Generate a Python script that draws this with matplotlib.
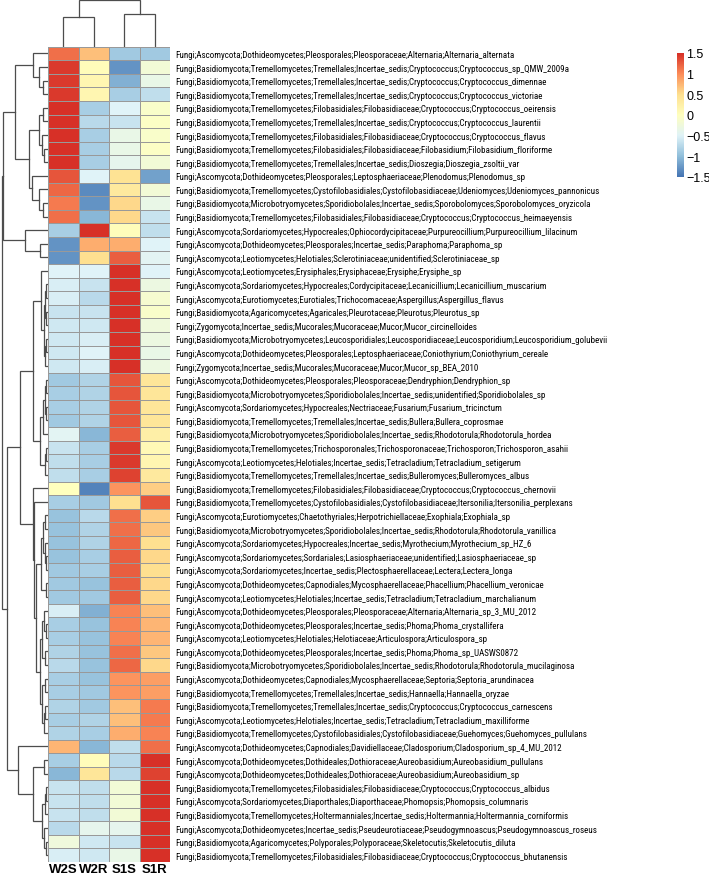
import numpy as np
import matplotlib.pyplot as plt
from matplotlib import font_manager
from matplotlib.colors import LinearSegmentedColormap

cols = ['W2S', 'W2R', 'S1S', 'S1R']

rows = [
    'Fungi;Ascomycota;Dothideomycetes;Pleosporales;Pleosporaceae;Alternaria;Alternaria_alternata',
    'Fungi;Basidiomycota;Tremellomycetes;Tremellales;Incertae_sedis;Cryptococcus;Cryptococcus_sp_QMW_2009a',
    'Fungi;Basidiomycota;Tremellomycetes;Tremellales;Incertae_sedis;Cryptococcus;Cryptococcus_dimennae',
    'Fungi;Basidiomycota;Tremellomycetes;Tremellales;Incertae_sedis;Cryptococcus;Cryptococcus_victoriae',
    'Fungi;Basidiomycota;Tremellomycetes;Filobasidiales;Filobasidiaceae;Cryptococcus;Cryptococcus_oeirensis',
    'Fungi;Basidiomycota;Tremellomycetes;Tremellales;Incertae_sedis;Cryptococcus;Cryptococcus_laurentii',
    'Fungi;Basidiomycota;Tremellomycetes;Filobasidiales;Filobasidiaceae;Cryptococcus;Cryptococcus_flavus',
    'Fungi;Basidiomycota;Tremellomycetes;Filobasidiales;Filobasidiaceae;Filobasidium;Filobasidium_floriforme',
    'Fungi;Basidiomycota;Tremellomycetes;Tremellales;Incertae_sedis;Dioszegia;Dioszegia_zsoltii_var',
    'Fungi;Ascomycota;Dothideomycetes;Pleosporales;Leptosphaeriaceae;Plenodomus;Plenodomus_sp',
    'Fungi;Basidiomycota;Tremellomycetes;Cystofilobasidiales;Cystofilobasidiaceae;Udeniomyces;Udeniomyces_pannonicus',
    'Fungi;Basidiomycota;Microbotryomycetes;Sporidiobolales;Incertae_sedis;Sporobolomyces;Sporobolomyces_oryzicola',
    'Fungi;Basidiomycota;Tremellomycetes;Filobasidiales;Filobasidiaceae;Cryptococcus;Cryptococcus_heimaeyensis',
    'Fungi;Ascomycota;Sordariomycetes;Hypocreales;Ophiocordycipitaceae;Purpureocillium;Purpureocillium_lilacinum',
    'Fungi;Ascomycota;Dothideomycetes;Pleosporales;Incertae_sedis;Paraphoma;Paraphoma_sp',
    'Fungi;Ascomycota;Leotiomycetes;Helotiales;Sclerotiniaceae;unidentified;Sclerotiniaceae_sp',
    'Fungi;Ascomycota;Leotiomycetes;Erysiphales;Erysiphaceae;Erysiphe;Erysiphe_sp',
    'Fungi;Ascomycota;Sordariomycetes;Hypocreales;Cordycipitaceae;Lecanicillium;Lecanicillium_muscarium',
    'Fungi;Ascomycota;Eurotiomycetes;Eurotiales;Trichocomaceae;Aspergillus;Aspergillus_flavus',
    'Fungi;Basidiomycota;Agaricomycetes;Agaricales;Pleurotaceae;Pleurotus;Pleurotus_sp',
    'Fungi;Zygomycota;Incertae_sedis;Mucorales;Mucoraceae;Mucor;Mucor_circinelloides',
    'Fungi;Basidiomycota;Microbotryomycetes;Leucosporidiales;Leucosporidiaceae;Leucosporidium;Leucosporidium_golubevii',
    'Fungi;Ascomycota;Dothideomycetes;Pleosporales;Leptosphaeriaceae;Coniothyrium;Coniothyrium_cereale',
    'Fungi;Zygomycota;Incertae_sedis;Mucorales;Mucoraceae;Mucor;Mucor_sp_BEA_2010',
    'Fungi;Ascomycota;Dothideomycetes;Pleosporales;Pleosporaceae;Dendryphion;Dendryphion_sp',
    'Fungi;Basidiomycota;Microbotryomycetes;Sporidiobolales;Incertae_sedis;unidentified;Sporidiobolales_sp',
    'Fungi;Ascomycota;Sordariomycetes;Hypocreales;Nectriaceae;Fusarium;Fusarium_tricinctum',
    'Fungi;Basidiomycota;Tremellomycetes;Tremellales;Incertae_sedis;Bullera;Bullera_coprosmae',
    'Fungi;Basidiomycota;Microbotryomycetes;Sporidiobolales;Incertae_sedis;Rhodotorula;Rhodotorula_hordea',
    'Fungi;Basidiomycota;Tremellomycetes;Trichosporonales;Trichosporonaceae;Trichosporon;Trichosporon_asahii',
    'Fungi;Ascomycota;Leotiomycetes;Helotiales;Incertae_sedis;Tetracladium;Tetracladium_setigerum',
    'Fungi;Basidiomycota;Tremellomycetes;Tremellales;Incertae_sedis;Bulleromyces;Bulleromyces_albus',
    'Fungi;Basidiomycota;Tremellomycetes;Filobasidiales;Filobasidiaceae;Cryptococcus;Cryptococcus_chernovii',
    'Fungi;Basidiomycota;Tremellomycetes;Cystofilobasidiales;Cystofilobasidiaceae;Itersonilia;Itersonilia_perplexans',
    'Fungi;Ascomycota;Eurotiomycetes;Chaetothyriales;Herpotrichiellaceae;Exophiala;Exophiala_sp',
    'Fungi;Basidiomycota;Microbotryomycetes;Sporidiobolales;Incertae_sedis;Rhodotorula;Rhodotorula_vanillica',
    'Fungi;Ascomycota;Sordariomycetes;Hypocreales;Incertae_sedis;Myrothecium;Myrothecium_sp_HZ_6',
    'Fungi;Ascomycota;Sordariomycetes;Sordariales;Lasiosphaeriaceae;unidentified;Lasiosphaeriaceae_sp',
    'Fungi;Ascomycota;Sordariomycetes;Incertae_sedis;Plectosphaerellaceae;Lectera;Lectera_longa',
    'Fungi;Ascomycota;Dothideomycetes;Capnodiales;Mycosphaerellaceae;Phacellium;Phacellium_veronicae',
    'Fungi;Ascomycota;Leotiomycetes;Helotiales;Incertae_sedis;Tetracladium;Tetracladium_marchalianum',
    'Fungi;Ascomycota;Dothideomycetes;Pleosporales;Pleosporaceae;Alternaria;Alternaria_sp_3_MU_2012',
    'Fungi;Ascomycota;Dothideomycetes;Pleosporales;Incertae_sedis;Phoma;Phoma_crystallifera',
    'Fungi;Ascomycota;Leotiomycetes;Helotiales;Helotiaceae;Articulospora;Articulospora_sp',
    'Fungi;Ascomycota;Dothideomycetes;Pleosporales;Incertae_sedis;Phoma;Phoma_sp_UASWS0872',
    'Fungi;Basidiomycota;Microbotryomycetes;Sporidiobolales;Incertae_sedis;Rhodotorula;Rhodotorula_mucilaginosa',
    'Fungi;Ascomycota;Dothideomycetes;Capnodiales;Mycosphaerellaceae;Septoria;Septoria_arundinacea',
    'Fungi;Basidiomycota;Tremellomycetes;Tremellales;Incertae_sedis;Hannaella;Hannaella_oryzae',
    'Fungi;Basidiomycota;Tremellomycetes;Tremellales;Incertae_sedis;Cryptococcus;Cryptococcus_carnescens',
    'Fungi;Ascomycota;Leotiomycetes;Helotiales;Incertae_sedis;Tetracladium;Tetracladium_maxilliforme',
    'Fungi;Basidiomycota;Tremellomycetes;Cystofilobasidiales;Cystofilobasidiaceae;Guehomyces;Guehomyces_pullulans',
    'Fungi;Ascomycota;Dothideomycetes;Capnodiales;Davidiellaceae;Cladosporium;Cladosporium_sp_4_MU_2012',
    'Fungi;Ascomycota;Dothideomycetes;Dothideales;Dothioraceae;Aureobasidium;Aureobasidium_pullulans',
    'Fungi;Ascomycota;Dothideomycetes;Dothideales;Dothioraceae;Aureobasidium;Aureobasidium_sp',
    'Fungi;Basidiomycota;Tremellomycetes;Filobasidiales;Filobasidiaceae;Cryptococcus;Cryptococcus_albidus',
    'Fungi;Ascomycota;Sordariomycetes;Diaporthales;Diaporthaceae;Phomopsis;Phomopsis_columnaris',
    'Fungi;Basidiomycota;Tremellomycetes;Holtermanniales;Incertae_sedis;Holtermannia;Holtermannia_corniformis',
    'Fungi;Ascomycota;Dothideomycetes;Incertae_sedis;Pseudeurotiaceae;Pseudogymnoascus;Pseudogymnoascus_roseus',
    'Fungi;Basidiomycota;Agaricomycetes;Polyporales;Polyporaceae;Skeletocutis;Skeletocutis_diluta',
    'Fungi;Basidiomycota;Tremellomycetes;Filobasidiales;Filobasidiaceae;Cryptococcus;Cryptococcus_bhutanensis',
]

# row z-scores (W2S, W2R, S1S, S1R)
values = [
    [1.15, 0.7, -0.9, -0.9],
    [1.45, 0.05, -1.3, -0.2],
    [1.45, 0.15, -1.1, -0.35],
    [1.45, 0.15, -0.85, -0.7],
    [1.5, -0.85, -0.5, -0.1],
    [1.5, -0.75, -0.65, -0.05],
    [1.5, -0.85, -0.35, -0.1],
    [1.5, -0.85, -0.35, -0.05],
    [1.5, -0.85, -0.4, -0.2],
    [1.3, -0.5, 0.45, -1.2],
    [1.2, -1.35, 0.35, -0.2],
    [1.1, -1.3, 0.55, -0.35],
    [1.15, -1.05, 0.55, -0.65],
    [-0.85, 1.5, 0.05, -0.7],
    [-1.3, 0.8, 0.8, -0.5],
    [-1.3, 0.5, 1.25, -0.45],
    [-0.5, -0.5, 1.5, -0.5],
    [-0.55, -0.65, 1.5, -0.3],
    [-0.55, -0.75, 1.5, -0.15],
    [-0.65, -0.65, 1.5, -0.1],
    [-0.6, -0.6, 1.5, -0.25],
    [-0.6, -0.55, 1.5, -0.3],
    [-0.6, -0.5, 1.5, -0.35],
    [-0.6, -0.55, 1.5, -0.3],
    [-0.9, -0.8, 1.3, 0.4],
    [-0.85, -0.8, 1.3, 0.4],
    [-0.85, -0.8, 1.3, 0.4],
    [-0.9, -0.8, 1.3, 0.4],
    [-0.45, -1.05, 1.25, 0.25],
    [-0.65, -0.85, 1.45, 0.1],
    [-0.7, -0.85, 1.45, 0.15],
    [-0.7, -0.85, 1.4, 0.35],
    [0.0, -1.4, 0.95, 0.6],
    [-0.85, -0.9, 0.5, 1.3],
    [-0.95, -0.75, 1.15, 0.6],
    [-0.95, -0.8, 1.15, 0.65],
    [-0.95, -0.8, 1.2, 0.5],
    [-0.95, -0.85, 1.25, 0.55],
    [-0.9, -0.85, 1.25, 0.5],
    [-0.9, -0.95, 1.25, 0.55],
    [-0.9, -0.9, 1.25, 0.55],
    [-0.55, -1.1, 1.05, 0.7],
    [-0.85, -0.95, 1.05, 0.75],
    [-0.85, -0.95, 1.05, 0.75],
    [-0.8, -0.95, 1.15, 0.65],
    [-0.75, -0.95, 1.2, 0.55],
    [-0.85, -0.95, 0.95, 0.9],
    [-0.85, -0.9, 0.95, 0.9],
    [-0.8, -0.9, 0.7, 1.1],
    [-0.85, -0.8, 0.7, 1.1],
    [-0.8, -0.85, 0.8, 1.05],
    [0.75, -1.05, -0.7, 1.15],
    [-0.85, 0.05, -0.75, 1.5],
    [-1.05, 0.4, -0.75, 1.4],
    [-0.65, -0.7, -0.2, 1.5],
    [-0.65, -0.7, -0.2, 1.5],
    [-0.65, -0.7, -0.2, 1.5],
    [-0.75, -0.4, -0.4, 1.5],
    [-0.25, -0.6, -0.65, 1.5],
    [-0.55, -0.6, -0.35, 1.5],
]

# row clustering: (left, right, height)
A1 = (0, (1, (2, 3, 5), 9), 15)
A2 = ((4, 5, 5), (6, (7, 8, 4), 6), 9)
A3 = (9, (10, (11, 12, 5), 9), 16)
A = (A1, (A2, A3, 19), 33)
B = (13, (14, 15, 8), 23)
C1a = (16, (((17, 18, 2), (19, 20, 2), 3), ((21, 22, 2), 23, 3), 4), 7)
C1b = ((((24, 25, 2), (26, 27, 2), 3), 28, 5), ((29, 30, 2), 31, 3), 8)
R1 = (((34, 35, 3), (36, (37, 38, 2), 3), 5), (39, 40, 2), 7)
R2 = (((41, (42, 43, 2), 4), (44, 45, 3), 6), ((46, 47, 3), ((48, 49, 3), 50, 4), 6), 8)
C2 = (32, (33, (R1, R2, 12), 14), 15)
C = ((C1a, C1b, 15), C2, 28)
D = (51, ((52, 53, 4), (((54, 55, 2), 56, 3), (57, (58, 59, 2), 4), 6), 15), 30)
row_tree = ((A, B, 45), (C, D, 41), 46)

# column clustering
col_tree = ((0, 1, 30), (2, 3, 33), 47)

W, H = 709, 878
fig = plt.figure(figsize=(W / 100, H / 100), dpi=100)

def fax(x0, y0, x1, y1):
    return fig.add_axes([x0 / W, 1 - y1 / H, (x1 - x0) / W, (y1 - y0) / H])

line_c = '#4d4d4d'

def draw(ax, node, vertical):
    if isinstance(node, int):
        return node + 0.5, 0
    l, r, h = node
    p1, h1 = draw(ax, l, vertical)
    p2, h2 = draw(ax, r, vertical)
    if vertical:
        ax.plot([h1, h, h, h2], [p1, p1, p2, p2], color=line_c, lw=0.9,
                solid_joinstyle='miter')
    else:
        ax.plot([p1, p1, p2, p2], [h1, h, h, h2], color=line_c, lw=0.9,
                solid_joinstyle='miter')
    return (p1 + p2) / 2, h

top, bot, hl, hr = 47.7, 863, 48, 170

# condensed face if there is one, else a smaller regular face
installed = {f.name for f in font_manager.fontManager.ttflist}
lab_font, lab_size = 'Liberation Sans', 6.0
for name, size in [('Roboto Condensed', 6.5), ('Liberation Sans Narrow', 6.6)]:
    if name in installed:
        lab_font, lab_size = name, size
        break

cmap = LinearSegmentedColormap.from_list(
    'pheat', ['#4575B4', '#91BFDB', '#E0F3F8', '#FFFFBF', '#FEE090', '#FC8D59', '#D73027'])

ax = fax(hl, top, hr, bot)
data = np.array(values)
ax.pcolormesh(data, cmap=cmap, vmin=-1.5, vmax=1.5, edgecolors='#999999', linewidth=0.7)
ax.set_xlim(0, 4)
ax.set_ylim(len(rows), 0)
ax.set_xticks(np.arange(4) + 0.5)
ax.set_xticklabels(cols, fontsize=9.5, fontweight='bold', family='Liberation Sans')
ax.yaxis.tick_right()
ax.set_yticks(np.arange(len(rows)) + 0.5)
ax.set_yticklabels(rows, fontsize=lab_size, family=lab_font)
ax.tick_params(length=0, pad=3.5)
ax.tick_params(axis='x', pad=0.5)
for s in ax.spines.values():
    s.set_visible(False)

axr = fax(0, top, hl, bot)
draw(axr, row_tree, True)
axr.set_xlim(48, 0)
axr.set_ylim(len(rows), 0)
axr.axis('off')

axc = fax(hl, 0, hr, top)
draw(axc, col_tree, False)
axc.set_xlim(0, 4)
axc.set_ylim(0, 47.7)
axc.axis('off')

axb = fax(677, 54, 684, 178)
grad = np.linspace(-1.5, 1.5, 200).reshape(-1, 1)
axb.imshow(grad, aspect='auto', cmap=cmap, origin='lower', extent=[0, 1, -1.5, 1.5])
axb.yaxis.tick_right()
ticks = [-1.5, -1, -0.5, 0, 0.5, 1, 1.5]
axb.set_yticks(ticks)
axb.set_yticklabels(['\u22121.5', '\u22121', '\u22120.5', '0', '0.5', '1', '1.5'],
                    fontsize=9, family='Liberation Sans')
axb.tick_params(length=0, pad=1.5)
axb.set_xticks([])
for s in axb.spines.values():
    s.set_visible(False)

fig.savefig('out.png', dpi=100)
